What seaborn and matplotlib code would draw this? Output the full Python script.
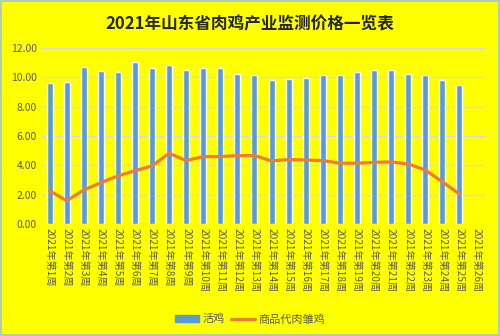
import numpy as np
import pandas as pd
import matplotlib
matplotlib.use("Agg")
import matplotlib.pyplot as plt
import seaborn as sns
from matplotlib.patches import Rectangle

# 数据
weeks = [f"2021年第{i}周" for i in range(1, 27)]
live_chicken = [9.65, 9.70, 10.71, 10.41, 10.34, 11.07, 10.64, 10.84, 10.52, 10.64,
                10.64, 10.23, 10.16, 9.84, 9.91, 9.98, 10.16, 10.16, 10.34, 10.52,
                10.52, 10.23, 10.16, 9.84, 9.48, np.nan]
chicks = [2.28, 1.59, 2.32, 2.82, 3.28, 3.64, 3.96, 4.83, 4.33, 4.60,
          4.60, 4.67, 4.67, 4.31, 4.40, 4.37, 4.33, 4.15, 4.15, 4.21,
          4.24, 4.10, 3.69, 2.89, 2.05, np.nan]

df = pd.DataFrame({"week": weeks, "live": live_chicken, "chick": chicks})

sns.set_theme(style="white")
plt.rcParams['font.family'] = ['Noto Sans CJK SC', 'DejaVu Sans']

bg = "#FFFF00"
fig = plt.figure(figsize=(5, 3.36), dpi=100, facecolor=bg)
ax = fig.add_axes([0.082, 0.333, 0.888, 0.524])
ax.set_facecolor(bg)

sns.barplot(data=df, x="week", y="live", order=weeks, color="#5B9BD5",
            width=0.35, saturation=1, ax=ax)
pos = np.arange(len(weeks))
sns.lineplot(x=pos, y=df["chick"].values, color="#ED7D31", linewidth=2.3, ax=ax)

ax.set_ylim(0, 12)
ax.set_xlim(-0.5, len(weeks) - 0.5)
ax.set_yticks(np.arange(0, 13, 2))
ax.set_yticklabels([f"{v:.2f}" for v in np.arange(0, 13, 2)], fontsize=7.5, color="#595959")
ax.set_xticks(pos)
ax.set_xticklabels(weeks, rotation=-90, fontsize=7.3, color="#595959")
ax.tick_params(axis="both", length=0, pad=3)
ax.grid(axis="y", color="#D9D9D9", linewidth=1)
ax.set_axisbelow(True)
for s in ax.spines.values():
    s.set_visible(False)
ax.set_xlabel("")
ax.set_ylabel("")

fig.suptitle("2021年山东省肉鸡产业监测价格一览表", y=0.955, fontsize=12,
             fontweight="bold", color="#262626")

handles = [Rectangle((0, 0), 1, 1, color="#5B9BD5"),
           plt.Line2D([0], [0], color="#ED7D31", linewidth=2.3)]
fig.legend(handles, ["活鸡", "商品代肉雏鸡"], loc="center", bbox_to_anchor=(0.5, 0.05),
           ncol=2, frameon=False, fontsize=8, labelcolor="#595959",
           handlelength=2.2, handleheight=0.6, columnspacing=0.5, handletextpad=0.3)

fig.patches.append(Rectangle((0.002, 0.003), 0.996, 0.994, transform=fig.transFigure,
                             fill=False, edgecolor="#9DC3E6", linewidth=1.2))

fig.savefig("out.png", dpi=100, facecolor=bg)
